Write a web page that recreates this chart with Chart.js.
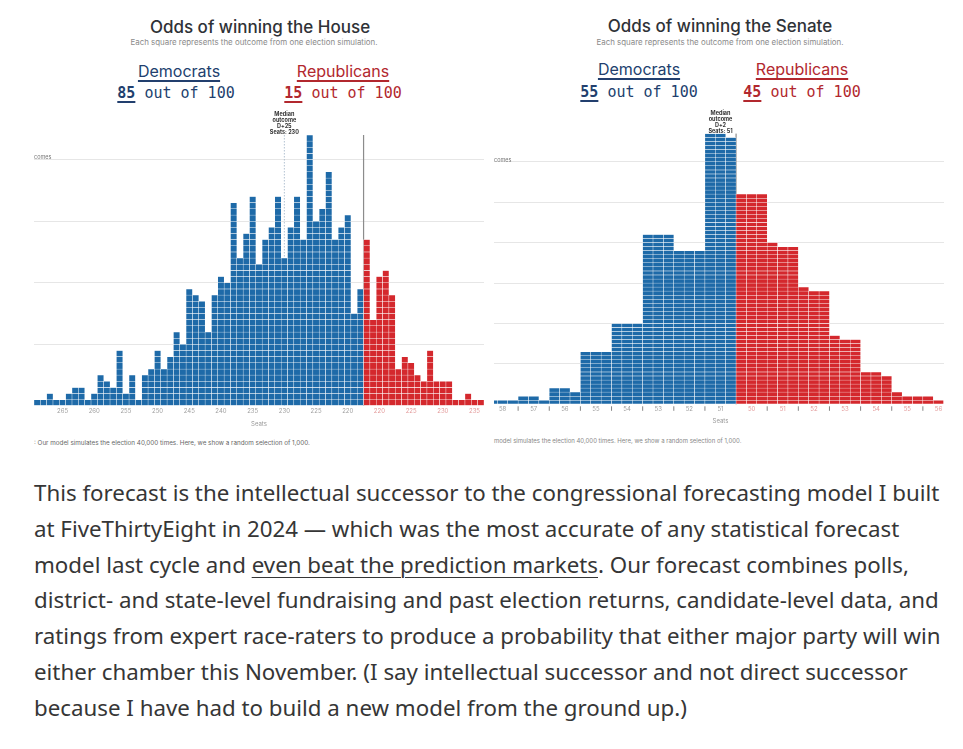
<!DOCTYPE html>
<html>
<head>
<meta charset="utf-8">
<script src="https://cdn.jsdelivr.net/npm/chart.js@4.4.1/dist/chart.umd.min.js"></script>
<style>
body { margin:0; background:#fff; width:963px; height:749px; position:relative; overflow:hidden; font-family: Inter, "Noto Sans", sans-serif; }
.abs { position:absolute; white-space:nowrap; }
.c { transform:translateX(-50%); }
.title { font-size:17px; line-height:20px; color:#2f3237; font-weight:500; }
.sub { font-size:7.9px; line-height:10px; color:#8a8a8a; }
.party { font-size:16px; line-height:20px; text-decoration:underline; text-decoration-thickness:1.5px; text-underline-offset:3px; }
.odds { font-family:"DejaVu Sans Mono", "Liberation Mono", monospace; font-size:15px; line-height:20px; }
.odds b { text-decoration:underline; text-decoration-thickness:2px; text-underline-offset:3px; }
.dem { color:#223f6e; }
.rep { color:#b2282e; }
.ylab { font-size:5.5px; line-height:6px; color:#777; }
.note { font-size:6.3px; line-height:8px; color:#666; }
.clip { position:absolute; overflow:hidden; }
#text { position:absolute; left:34px; top:475px; font-family:"Noto Sans", sans-serif; font-size:22.3px; line-height:35.8px; color:#363636; }
#text div { white-space:nowrap; }
#text u { text-decoration-thickness:1px; text-underline-offset:4px; }
</style>
</head>
<body>

<div class="abs c title" style="left:260px; top:17px;">Odds of winning the House</div>
<div class="abs c sub" style="left:254px; top:37px;">Each square represents the outcome from one election simulation.</div>
<div class="abs c party dem" style="left:179px; top:61px;">Democrats</div>
<div class="abs c odds dem" style="left:176px; top:83px;"><b>85</b> out of 100</div>
<div class="abs c party rep" style="left:343px; top:61px;">Republicans</div>
<div class="abs c odds rep" style="left:343px; top:83px;"><b>15</b> out of 100</div>

<div class="abs c title" style="left:720px; top:16px;">Odds of winning the Senate</div>
<div class="abs c sub" style="left:720px; top:37px;">Each square represents the outcome from one election simulation.</div>
<div class="abs c party dem" style="left:639px; top:59px;">Democrats</div>
<div class="abs c odds dem" style="left:639px; top:82px;"><b>55</b> out of 100</div>
<div class="abs c party rep" style="left:802px; top:59px;">Republicans</div>
<div class="abs c odds rep" style="left:802px; top:82px;"><b>45</b> out of 100</div>

<div class="abs" style="left:34px; top:100px;"><canvas id="house" width="450" height="330"></canvas></div>
<div class="abs ylab" style="left:34px; top:154px;">comes</div>

<div class="clip" style="left:494px; top:100px; width:450px; height:330px;">
  <div class="abs" style="left:-7px; top:0;"><canvas id="senate" width="467" height="328"></canvas></div>
</div>
<div class="abs ylab" style="left:494px; top:157px;">comes</div>

<div class="abs note" style="left:34px; top:439px;">: Our model simulates the election 40,000 times. Here, we show a random selection of 1,000.</div>
<div class="abs note" style="left:494px; top:437px; color:#888; font-size:6px;">model simulates the election 40,000 times. Here, we show a random selection of 1,000.</div>

<div id="text">
<div>This forecast is the intellectual successor to the congressional forecasting model I built</div>
<div>at FiveThirtyEight in 2024 — which was the most accurate of any statistical forecast</div>
<div>model last cycle and <u>even beat the prediction markets</u>. Our forecast combines polls,</div>
<div>district- and state-level fundraising and past election returns, candidate-level data, and</div>
<div>ratings from expert race-raters to produce a probability that either major party will win</div>
<div>either chamber this November. (I say intellectual successor and not direct successor</div>
<div>because I have had to build a new model from the ground up.)</div>
</div>

<script>
// House: one column per seat outcome, D seats then R seats
var houseSeats = [269,268,267,266,265,264,263,262,261,260,259,258,257,256,255,254,253,252,251,250,
  249,248,247,246,245,244,243,242,241,240,239,238,237,236,235,234,233,232,231,230,
  229,228,227,226,225,224,223,222,221,220,219,218,
  218,219,220,221,222,223,224,225,226,227,228,229,230,231,232,233,234,235,236];
var houseParty = [];
for (var i = 0; i < houseSeats.length; i++) houseParty.push(i < 52 ? 'D' : 'R');
var houseCounts = [1,1,2,1,1,2,3,3,1,2, 5,4,3,9,2,5,1,5,6,9,
  6,8,12,10,19,18,17,12,18,21, 20,33,24,28,34,23,27,29,34,24,
  29,34,27,44,30,32,38,27,29,31, 15,19,
  27,14,21,22,18,6,8,7,5,4,9,4,4,4,1,1,2,1,1];
var houseMedian = 230;
var houseMedianText = ['Median', 'outcome', 'D+25', 'Seats: 230'];

// Senate: one group per seat outcome, units stacked three across
var senateSeats = [58,57,56,55,54,53,52,51, 50,51,52,53,54,55,56];
var senateParty = ['D','D','D','D','D','D','D','D', 'R','R','R','R','R','R','R'];
var senateCounts = [3,5,11,39,60,126,114,200, 156,118,85,49,23,7,4];
var senateMedian = 51;
var senateMedianText = ['Median', 'outcome', 'D+2', 'Seats: 51'];

var BLUE = '#1e6aa8';
var RED = '#d4282d';

Chart.defaults.font.family = 'Inter';
Chart.defaults.animation = false;

function unitDatasets(heights, colors) {
  var max = Math.max.apply(null, heights);
  var sets = [];
  for (var k = 0; k < max; k++) {
    sets.push({
      data: heights.map(function(h) { return h > k ? 1 : null; }),
      backgroundColor: colors,
      borderColor: '#ffffff',
      borderWidth: 0.5,
      borderSkipped: false,
      categoryPercentage: 1,
      barPercentage: 1,
      stack: 'units'
    });
  }
  return sets;
}

function drawMedianText(ctx, x, top, lines) {
  ctx.save();
  ctx.fillStyle = '#333';
  ctx.font = 'bold 5.5px Inter';
  ctx.textAlign = 'center';
  ctx.textBaseline = 'middle';
  lines.forEach(function(t, i) { ctx.fillText(t, x, top - 21 + i * 6.2); });
  ctx.restore();
}

// ---------- House ----------
var houseColors = houseParty.map(function(p) { return p === 'R' ? RED : BLUE; });

var houseMarks = {
  id: 'houseMarks',
  beforeDatasetsDraw: function(chart) {
    var x = chart.scales.x, y = chart.scales.y, ctx = chart.ctx;
    var top = chart.chartArea.top, base = y.getPixelForValue(0);
    var split = houseParty.indexOf('R');
    var mx = (x.getPixelForValue(split - 1) + x.getPixelForValue(split)) / 2;
    ctx.save();
    ctx.strokeStyle = '#8c8c8c';
    ctx.lineWidth = 1.2;
    ctx.beginPath(); ctx.moveTo(mx, top); ctx.lineTo(mx, base); ctx.stroke();
    var medX = x.getPixelForValue(houseSeats.indexOf(houseMedian));
    ctx.strokeStyle = '#9fb3c6';
    ctx.lineWidth = 0.8;
    ctx.setLineDash([1.5, 1.5]);
    ctx.beginPath(); ctx.moveTo(medX, top); ctx.lineTo(medX, base); ctx.stroke();
    ctx.restore();
  },
  afterDraw: function(chart) {
    var x = chart.scales.x;
    drawMedianText(chart.ctx, x.getPixelForValue(houseSeats.indexOf(houseMedian)), chart.chartArea.top, houseMedianText);
  }
};

new Chart(document.getElementById('house'), {
  type: 'bar',
  data: { labels: houseSeats.map(String), datasets: unitDatasets(houseCounts, houseColors) },
  options: {
    responsive: false,
    layout: { padding: { top: 35, left: 0, right: 0, bottom: 0 } },
    plugins: { legend: { display: false }, tooltip: { enabled: false } },
    scales: {
      x: {
        stacked: true,
        grid: { display: false, drawTicks: false },
        border: { display: false },
        ticks: {
          autoSkip: false, maxRotation: 0, padding: 2,
          font: { size: 6 },
          color: function(c) { return houseParty[c.index] === 'R' ? '#e39a9a' : '#a0a0a0'; },
          callback: function(v, i) { return houseSeats[i] % 5 === 0 ? String(houseSeats[i]) : ''; }
        },
        title: { display: true, text: 'Seats', color: '#999', font: { size: 6 }, padding: { top: 0, bottom: 2 } },
        afterFit: function(s) { s.height = 24; }
      },
      y: {
        stacked: true, min: 0, max: 44,
        border: { display: false },
        ticks: { display: false, stepSize: 10 },
        grid: {
          drawTicks: false, lineWidth: 1,
          color: function(c) { return c.tick && c.tick.value > 0 && c.tick.value % 10 === 0 ? '#e6e6e6' : 'rgba(0,0,0,0)'; }
        },
        afterFit: function(s) { s.width = 0; }
      }
    }
  },
  plugins: [houseMarks]
});

// ---------- Senate ----------
var senateHeights = [], senateGroup = [];
senateCounts.forEach(function(c, g) {
  var full = Math.floor(c / 3), rem = c % 3;
  [full + (rem > 0 ? 1 : 0), full + (rem > 1 ? 1 : 0), full].forEach(function(h) {
    senateHeights.push(h);
    senateGroup.push(g);
  });
});
var senateColors = senateGroup.map(function(g) { return senateParty[g] === 'R' ? RED : BLUE; });

var senateMarks = {
  id: 'senateMarks',
  beforeDatasetsDraw: function(chart) {
    var x = chart.scales.x, y = chart.scales.y, ctx = chart.ctx;
    var top = chart.chartArea.top, base = y.getPixelForValue(0);
    var split = senateGroup.indexOf(senateParty.indexOf('R'));
    var mx = (x.getPixelForValue(split - 1) + x.getPixelForValue(split)) / 2;
    ctx.save();
    ctx.strokeStyle = '#777';
    ctx.lineWidth = 1;
    ctx.beginPath(); ctx.moveTo(mx, top); ctx.lineTo(mx, base); ctx.stroke();
    ctx.restore();
  },
  afterDraw: function(chart) {
    var x = chart.scales.x, y = chart.scales.y, ctx = chart.ctx;
    var base = y.getPixelForValue(0);
    ctx.save();
    ctx.strokeStyle = '#666';
    ctx.lineWidth = 0.8;
    for (var i = 1; i < senateHeights.length; i++) {
      if (senateGroup[i] !== senateGroup[i - 1] && senateParty[senateGroup[i]] === senateParty[senateGroup[i - 1]]) {
        var bx = (x.getPixelForValue(i - 1) + x.getPixelForValue(i)) / 2;
        ctx.beginPath(); ctx.moveTo(bx, base + 2); ctx.lineTo(bx, base + 6.5); ctx.stroke();
      }
    }
    ctx.restore();
    var g = senateSeats.indexOf(senateMedian);
    var medX = x.getPixelForValue(senateGroup.indexOf(g) + 1);
    drawMedianText(ctx, medX, chart.chartArea.top + 0.5, senateMedianText);
  }
};

new Chart(document.getElementById('senate'), {
  type: 'bar',
  data: { labels: senateGroup.map(function(g) { return String(senateSeats[g]); }), datasets: unitDatasets(senateHeights, senateColors) },
  options: {
    responsive: false,
    layout: { padding: { top: 33.6, left: 0, right: 0, bottom: 0 } },
    plugins: { legend: { display: false }, tooltip: { enabled: false } },
    scales: {
      x: {
        stacked: true,
        grid: { display: false, drawTicks: false },
        border: { display: false },
        ticks: {
          autoSkip: false, maxRotation: 0, padding: 1,
          font: { size: 6 },
          color: function(c) { return senateParty[senateGroup[c.index]] === 'R' ? '#e39a9a' : '#a0a0a0'; },
          callback: function(v, i) {
            return (i === 0 || senateGroup[i] !== senateGroup[i - 1]) ? '' :
              (senateGroup[i] === senateGroup[i + 1] ? String(senateSeats[senateGroup[i]]) : '');
          }
        },
        title: { display: true, text: 'Seats', color: '#999', font: { size: 6 }, padding: { top: 0, bottom: 3 } },
        afterFit: function(s) { s.height = 23.7; }
      },
      y: {
        stacked: true, min: 0, max: 67,
        border: { display: false },
        ticks: { display: false, stepSize: 10 },
        grid: {
          drawTicks: false, lineWidth: 1,
          color: function(c) { return c.tick && c.tick.value > 0 && c.tick.value % 10 === 0 ? '#e6e6e6' : 'rgba(0,0,0,0)'; }
        },
        afterFit: function(s) { s.width = 0; }
      }
    }
  },
  plugins: [senateMarks]
});
</script>
</body>
</html>
